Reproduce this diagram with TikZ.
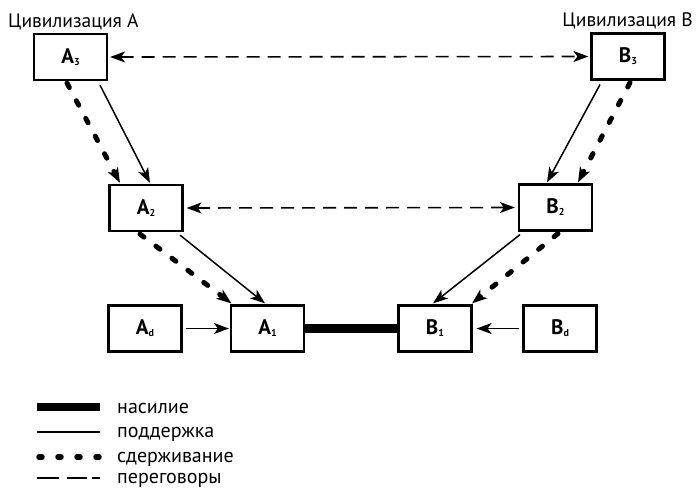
\documentclass[tikz,border=0pt]{standalone}
\usepackage{fontspec}
\setmainfont{PT Sans}
\usetikzlibrary{arrows.meta}
\tikzset{
  box/.style={draw, line width=2.2pt, minimum width=73pt, minimum height=46pt, inner sep=0pt, font=\fontsize{21}{21}\selectfont\bfseries},
  tip/.style={-{Stealth[length=15pt,width=11pt,inset=4pt]}},
  support/.style={line width=1.5pt},
  deter/.style={line width=5pt, line cap=round, dash pattern=on 5pt off 15pt},
  negot/.style={line width=1.6pt, dash pattern=on 13pt off 8pt},
  violence/.style={line width=9pt},
  lbl/.style={font=\fontsize{20}{20}\selectfont, anchor=base west, inner sep=0pt},
  civ/.style={font=\fontsize{19.5}{19.5}\selectfont, inner sep=0pt}
}
\newcommand{\bx}[2]{#1\raisebox{-2pt}{\fontsize{10}{10}\selectfont #2}}
\begin{document}
\begin{tikzpicture}[x=1pt,y=-1pt]
\useasboundingbox (0,0) rectangle (697,488);
\node[civ, anchor=base west] (civA) at (8,27) {Цивилизация А};
\node[civ, anchor=base east] (civB) at (693,26) {Цивилизация В};

\node[box] (A3) at (70.5,57) {\bx{A}{3}};
\node[box] (B3) at (628,56.5) {\bx{B}{3}};
\node[box] (A2) at (146,208) {\bx{A}{2}};
\node[box] (B2) at (555.5,207.5) {\bx{B}{2}};
\node[box] (Ad) at (145,328.5) {\bx{A}{d}};
\node[box] (A1) at (267.5,328.5) {\bx{A}{1}};
\node[box] (B1) at (435,328.5) {\bx{B}{1}};
\node[box] (Bd) at (560,328.5) {\bx{B}{d}};

% negotiations
\draw[negot, {Stealth[length=15pt,width=11pt,inset=4pt]}-{Stealth[length=15pt,width=11pt,inset=4pt]}, shorten <=2pt, shorten >=2pt] (A3.east) -- (B3.west);
\draw[negot, {Stealth[length=15pt,width=11pt,inset=4pt]}-{Stealth[length=15pt,width=11pt,inset=4pt]}, shorten <=3pt, shorten >=3pt] (A2.east) -- (B2.west);

% support
\draw[support, tip] ([xshift=29.5pt,yshift=-4pt]A3.south) -- ([xshift=4pt,yshift=1pt]A2.north);
\draw[support, tip] ([xshift=34pt,yshift=-3pt]A2.south) -- ([xshift=-2.5pt,yshift=1pt]A1.north);
\draw[support, tip] ([xshift=-28pt,yshift=-4pt]B3.south) -- ([xshift=-8.5pt,yshift=1pt]B2.north);
\draw[support, tip] ([xshift=-35.5pt,yshift=-3pt]B2.south) -- ([xshift=-2pt,yshift=1pt]B1.north);
\draw[support, tip, shorten <=3pt, shorten >=1pt] (Ad.east) -- (A1.west);
\draw[support, tip, shorten <=3pt, shorten >=4pt] (Bd.west) -- (B1.east);

% deterrence
\draw[deter, tip] ([xshift=-3.5pt,yshift=-2pt]A3.south) -- ([xshift=-26pt,yshift=1pt]A2.north);
\draw[deter, tip] ([xshift=-6pt,yshift=-2pt]A2.south) -- ([xshift=-36pt,yshift=1pt]A1.north);
\draw[deter, tip] ([xshift=2pt,yshift=-2pt]B3.south) -- ([xshift=22.5pt,yshift=1pt]B2.north);
\draw[deter, tip] ([xshift=2.5pt,yshift=-2pt]B2.south) -- ([xshift=37pt,yshift=1pt]B1.north);

% violence
\draw[violence] (A1.east) -- (B1.west);

% legend
\coordinate (l1a) at (37,407); \coordinate (l1b) at (100,407);
\coordinate (l2a) at (37,432); \coordinate (l2b) at (100,432);
\coordinate (l3a) at (39,457); \coordinate (l3b) at (100,457);
\coordinate (l4a) at (37,478); \coordinate (l4b) at (100,478);
\draw[line width=7.5pt] (l1a) -- (l1b);
\draw[support] (l2a) -- (l2b);
\draw[line width=5.5pt, line cap=round, dash pattern=on 3pt off 16pt] (l3a) -- (l3b);
\draw[line width=1.6pt, dash pattern=on 22pt off 8pt on 20pt off 5pt on 10pt] (l4a) -- (l4b);
\node[lbl] (t1) at (117,413) {насилие};
\node[lbl] (t2) at (117,437) {поддержка};
\node[lbl] (t3) at (117,462) {сдерживание};
\node[lbl] (t4) at (117,483) {переговоры};
\end{tikzpicture}
\end{document}
